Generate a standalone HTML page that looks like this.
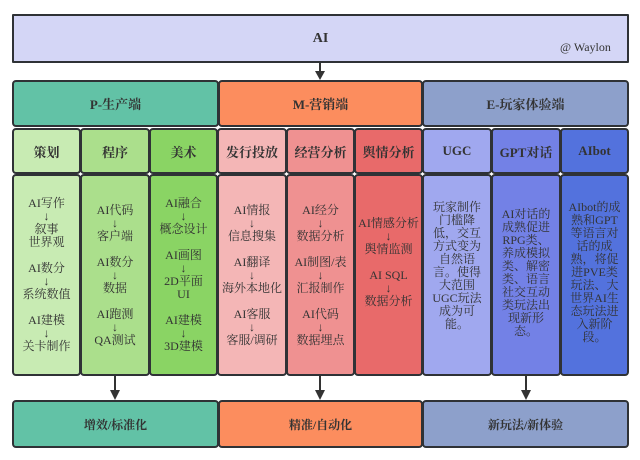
<!DOCTYPE html>
<html><head><meta charset="utf-8"><style>
body{margin:0;width:640px;height:460px;background:#fff;position:relative;overflow:hidden;font-family:"Liberation Serif","Noto Serif CJK SC",serif;color:#333}
.b{position:absolute;box-sizing:border-box;border:2px solid #2f3236;border-radius:4px;display:flex;align-items:center;justify-content:center;text-align:center}
.h{font-weight:bold;font-size:13px}
.c{font-size:12px;line-height:13px;padding:0;white-space:nowrap}
.w{white-space:normal}
svg{position:absolute;left:0;top:0}
</style></head><body>
<div class="b h" style="left:12px;top:14px;width:617px;height:49px;background:#d4d6f6;border-radius:1px;font-size:14px">AI</div>
<div style="position:absolute;left:560px;top:40px;font-size:12px;color:#333">@ Waylon</div>

<div class="b h" style="left:12px;top:80px;width:207px;height:47px;background:#62c2a6">P-生产端</div>
<div class="b h" style="left:218px;top:80px;width:205px;height:47px;background:#fc8d5e">M-营销端</div>
<div class="b h" style="left:422px;top:80px;width:207px;height:47px;background:#8da0cb">E-玩家体验端</div>

<div class="b h" style="left:12px;top:128px;width:69px;height:46px;background:#c8ebb3">策划</div>
<div class="b h" style="left:80px;top:128px;width:70px;height:46px;background:#abdf8c">程序</div>
<div class="b h" style="left:149px;top:128px;width:69px;height:46px;background:#8ad464">美术</div>
<div class="b h" style="left:217px;top:128px;width:70px;height:46px;background:#f4b6b6">发行投放</div>
<div class="b h" style="left:286px;top:128px;width:69px;height:46px;background:#ef9191">经营分析</div>
<div class="b h" style="left:354px;top:128px;width:69px;height:46px;background:#e86a6a">舆情分析</div>
<div class="b h" style="left:422px;top:128px;width:70px;height:46px;background:#a0a8ef">UGC</div>
<div class="b h" style="left:491px;top:128px;width:70px;height:46px;background:#7381e6">GPT对话</div>
<div class="b h" style="left:560px;top:128px;width:69px;height:46px;background:#5372dd">AIbot</div>

<div class="b c" style="left:12px;top:174px;width:69px;height:202px;background:#c8ebb3">AI写作<br>↓<br>叙事<br>世界观<br><br>AI数分<br>↓<br>系统数值<br><br>AI建模<br>↓<br>关卡制作</div>
<div class="b c" style="left:80px;top:174px;width:70px;height:202px;background:#abdf8c">AI代码<br>↓<br>客户端<br><br>AI数分<br>↓<br>数据<br><br>AI跑测<br>↓<br>QA测试</div>
<div class="b c" style="left:149px;top:174px;width:69px;height:202px;background:#8ad464">AI融合<br>↓<br>概念设计<br><br>AI画图<br>↓<br>2D平面<br>UI<br><br>AI建模<br>↓<br>3D建模</div>
<div class="b c" style="left:217px;top:174px;width:70px;height:202px;background:#f4b6b6">AI情报<br>↓<br>信息搜集<br><br>AI翻译<br>↓<br>海外本地化<br><br>AI客服<br>↓<br>客服/调研</div>
<div class="b c" style="left:286px;top:174px;width:69px;height:202px;background:#ef9191">AI经分<br>↓<br>数据分析<br><br>AI制图/表<br>↓<br>汇报制作<br><br>AI代码<br>↓<br>数据埋点</div>
<div class="b c" style="left:354px;top:174px;width:69px;height:202px;background:#e86a6a;align-items:flex-start;padding-top:41px">AI情感分析<br>↓<br>舆情监测<br><br>AI SQL<br>↓<br>数据分析</div>
<div class="b c w" style="left:422px;top:174px;width:70px;height:202px;background:#a0a8ef;align-items:flex-start;padding:25px 8px 0">玩家制作门槛降低，交互方式变为自然语言。使得大范围UGC玩法成为可能。</div>
<div class="b c w" style="left:491px;top:174px;width:70px;height:202px;background:#7381e6;align-items:flex-start;padding:32px 8px 0">AI对话的成熟促进RPG类、养成模拟类、解密类、语言社交互动类玩法出现新形态。</div>
<div class="b c w" style="left:560px;top:174px;width:69px;height:202px;background:#5372dd;align-items:flex-start;padding:25px 6px 0">AIbot的成熟和GPT等语言对话的成熟，将促进PVE类玩法、大世界AI生态玩法进入新阶段。</div>

<div class="b h" style="left:12px;top:400px;width:207px;height:48px;background:#62c2a6;font-size:12px">增效/标准化</div>
<div class="b h" style="left:218px;top:400px;width:205px;height:48px;background:#fc8d5e;font-size:12px">精准/自动化</div>
<div class="b h" style="left:422px;top:400px;width:207px;height:48px;background:#8da0cb;font-size:12px">新玩法/新体验</div>

<svg width="640" height="460">
<g stroke="#333" stroke-width="2" fill="#333">
<line x1="320" y1="63" x2="320" y2="72"/><polygon points="315,71 325,71 320,80" stroke="none"/>
<line x1="115" y1="376" x2="115" y2="391"/><polygon points="110,390 120,390 115,400" stroke="none"/>
<line x1="320" y1="376" x2="320" y2="391"/><polygon points="315,390 325,390 320,400" stroke="none"/>
<line x1="526" y1="376" x2="526" y2="391"/><polygon points="521,390 531,390 526,400" stroke="none"/>
</g></svg>
</body></html>
